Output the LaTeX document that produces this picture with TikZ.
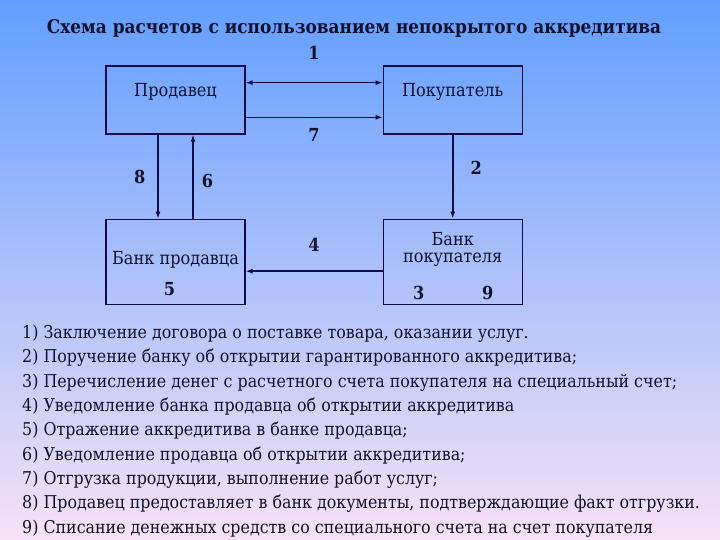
\documentclass[tikz,border=0pt]{standalone}
\usepackage{fontspec}
\setmainfont{DejaVu Serif Condensed}
\usetikzlibrary{arrows.meta,positioning,calc}
\definecolor{skyTop}{RGB}{98,158,255}
\definecolor{skyMid}{RGB}{152,198,250}
\definecolor{skyLow}{RGB}{246,226,246}
\definecolor{inkNavy}{RGB}{12,12,70}
\definecolor{inkText}{RGB}{18,18,45}

\begin{document}
\begin{tikzpicture}[x=1bp,y=-1bp,
  party/.style={draw=inkNavy,line width=1.2bp,minimum width=139bp,minimum height=68bp,inner sep=0pt},
  bank/.style={draw=inkNavy,line width=1.2bp,minimum width=139bp,minimum height=85bp,inner sep=0pt},
  boxtext/.style={text=inkText,font=\fontsize{18}{18}\selectfont,align=center,inner sep=0pt},
  num/.style={text=inkText,font=\fontsize{18}{18}\selectfont\bfseries,inner sep=0pt},
  arrow/.style={-{Latex[length=7bp,width=5bp]},draw=inkNavy,line width=1.3bp}
]
  \useasboundingbox (0,0) rectangle (720,540);
  \shade[top color=skyTop,middle color=skyMid,bottom color=skyLow] (0,0) rectangle (720,540);

  \node[text=inkText,font=\fontsize{18.9}{18.9}\selectfont\bfseries] (title) at (354,28) {Схема расчетов с использованием непокрытого аккредитива};

  \node[party] (seller) at (175.5,100) {};
  \node[party,right=137bp of seller] (buyer) {};
  \node[bank,below=84bp of seller] (sbank) {};
  \node[bank,below=84bp of buyer] (bbank) {};

  \node[boxtext] (sellerTxt) at ($(seller.center)+(0,-8)$) {Продавец};
  \node[boxtext] (buyerTxt) at ($(buyer.center)+(0,-8)$) {Покупатель};
  \node[boxtext] (sbankTxt) at ($(sbank.center)+(0,-2)$) {Банк продавца};
  \node[boxtext] (bbankTxt) at ($(bbank.center)+(0,-12)$) {Банк\\[-1bp]покупателя};
  \node[num] (n5) at ($(sbank.center)+(-6,27)$) {5};
  \node[num] (n3) at ($(bbank.center)+(-34,31)$) {3};
  \node[num] (n9) at ($(bbank.center)+(35,31)$) {9};

  \draw[arrow,{Latex[length=7bp,width=5bp]}-{Latex[length=7bp,width=5bp]}] ($(seller.north east)!.25!(seller.south east)$) -- node[num,above=23bp] (n1) {1} ($(buyer.north west)!.25!(buyer.south west)$);
  \draw[arrow] ($(seller.north east)!.75!(seller.south east)$) -- node[num,below=10bp] (n7) {7} ($(buyer.north west)!.75!(buyer.south west)$);
  \draw[arrow] ($(seller.south west)!.375!(seller.south east)$) -- node[num,left=12bp] (n8) {8} ($(sbank.north west)!.375!(sbank.north east)$);
  \draw[arrow,line width=1.9bp] ($(sbank.north west)!.625!(sbank.north east)$) -- node[num,right=8bp,pos=.45] (n6) {6} ($(seller.south west)!.625!(seller.south east)$);
  \draw[arrow,line width=1.7bp] (buyer.south) -- node[num,right=17bp,pos=.4] (n2) {2} (bbank.north);
  \draw[arrow,line width=1.7bp] ($(bbank.north west)!.61!(bbank.south west)$) -- node[num,above=19bp] (n4) {4} ($(sbank.north east)!.61!(sbank.south east)$);

  \node[text=inkText,font=\fontsize{17.7}{24.4}\selectfont,align=left,anchor=north west,inner sep=0pt] (legend) at (22,325) {%
    1) Заключение договора о поставке товара, оказании услуг.\\
    2) Поручение банку об открытии гарантированного аккредитива;\\
    3) Перечисление денег с расчетного счета покупателя на специальный счет;\\
    4) Уведомление банка продавца об открытии аккредитива\\
    5) Отражение аккредитива в банке продавца;\\
    6) Уведомление продавца об открытии аккредитива;\\
    7) Отгрузка продукции, выполнение работ услуг;\\
    8) Продавец предоставляет в банк документы, подтверждающие факт отгрузки.\\
    9) Списание денежных средств со специального счета на счет покупателя};
\end{tikzpicture}
\end{document}
